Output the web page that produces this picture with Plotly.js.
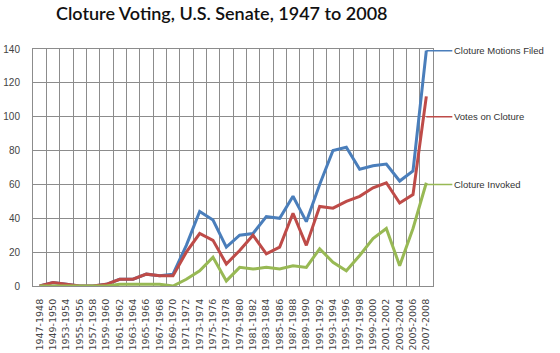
<!DOCTYPE html>
<html>
<head>
<meta charset="utf-8">
<script src="https://cdn.plot.ly/plotly-3.0.1.min.js"></script>
<style>html,body{margin:0;padding:0;background:#fff;}#chart{width:560px;height:353px;}</style>
</head>
<body>
<div id="chart"></div>
<script>
const congresses = ["1947-1948","1949-1950","1953-1954","1955-1956","1957-1958","1959-1960","1961-1962","1963-1964","1965-1966","1967-1968","1969-1970","1971-1972","1973-1974","1975-1976","1977-1978","1979-1980","1981-1982","1983-1984","1985-1986","1987-1988","1989-1990","1991-1992","1993-1994","1995-1996","1997-1998","1999-2000","2001-2002","2003-2004","2005-2006","2007-2008"];
const motionsFiled = [0,2,1,0,0,1,4,4,7,6,7,24,44,39,23,30,31,41,40,53,38,60,80,82,69,71,72,62,68,139];
const votesOnCloture = [0,2,1,0,0,1,4,4,7,6,6,20,31,27,13,21,30,19,23,43,24,47,46,50,53,58,61,49,54,112];
const clotureInvoked = [0,0,0,0,0,0,1,1,1,1,0,4,9,17,3,11,10,11,10,12,11,22,14,9,18,28,34,12,34,61];
const seriesNames = ["Cloture Motions Filed","Votes on Cloture","Cloture Invoked"];
const labelValues = [139,100,60];

const colors = ["#4A7EBB","#BE4B48","#98B954"];
const allSeries = [motionsFiled, votesOnCloture, clotureInvoked];

const traces = allSeries.map((vals,i)=>({
  x: congresses, y: vals, type: "scatter", mode: "lines",
  name: seriesNames[i],
  line: {color: colors[i], width: 3},
  hoverinfo: "skip"
}));

const annotations = seriesNames.map((n,i)=>({
  x: congresses[congresses.length-1], y: labelValues[i], xref: "x", yref: "y",
  text: n, showarrow: true, arrowhead: 0, arrowwidth: 1.5, arrowcolor: colors[i],
  ax: 26, ay: 0, xanchor: "left", yanchor: "middle",
  font: {family: "Liberation Sans, Arial, sans-serif", size: 9.5, color: "#333"},
  standoff: 0, startstandoff: 0
}));

const layout = {
  width: 560, height: 353,
  margin: {l: 33, r: 127, t: 49, b: 67},
  paper_bgcolor: "#fff", plot_bgcolor: "#fff",
  showlegend: false,
  title: {text: "Cloture Voting, U.S. Senate, 1947 to 2008", x: 0.1, xanchor: "left", y: 0.96, yanchor: "middle",
    font: {family: "Lato, sans-serif", size: 18, color: "#111", weight: 600}},
  xaxis: {type: "category", tickson: "boundaries", showgrid: true, gridcolor: "#8c8c8c", gridwidth: 1,
    ticks: "", tickangle: -90, showline: true, linecolor: "#8c8c8c", mirror: true, zeroline: false,
    ticklabelstandoff: 8,
    tickfont: {family: "DejaVu Sans, sans-serif", size: 9.5, color: "#444"},
    range: [-0.5, 29.5]},
  yaxis: {range: [0, 140], dtick: 20, showgrid: true, gridcolor: "#8c8c8c", gridwidth: 1,
    ticks: "", showline: true, linecolor: "#8c8c8c", mirror: true, zeroline: false,
    ticklabelstandoff: 10,
    tickfont: {family: "Liberation Sans, Arial, sans-serif", size: 10, color: "#444"}},
  annotations: annotations
};

Plotly.newPlot("chart", traces, layout, {staticPlot: true, displayModeBar: false});
</script>
</body>
</html>
